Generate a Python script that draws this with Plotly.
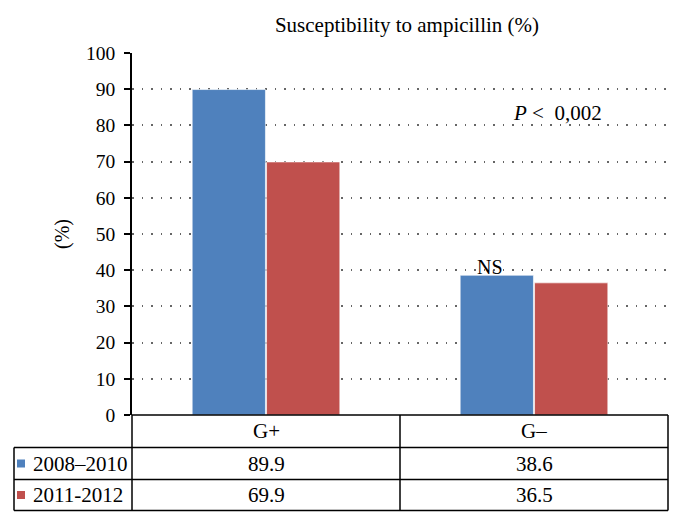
import plotly.graph_objects as go

categories = ["G+", "G–"]
series_names = ["2008–2010", "2011-2012"]
values_2008_2010 = [89.9, 38.6]
values_2011_2012 = [69.9, 36.5]
table_values = [["89.9", "38.6"], ["69.9", "36.5"]]
colors = ["#4F81BD", "#C0504D"]
y_ticks = [0, 10, 20, 30, 40, 50, 60, 70, 80, 90, 100]

FONT = "Liberation Serif"
W, H = 678, 525
L, R, T, B = 132, 10, 53, 110
pw, ph = W - L - R, H - T - B

def px_x(p):
    return (p - L) / pw

def px_y(p):
    return (H - B - p) / ph

fig = go.Figure()
for name, vals, col in zip(series_names, [values_2008_2010, values_2011_2012], colors):
    fig.add_trace(go.Bar(
        x=categories, y=vals, name=name,
        marker=dict(color=col, line=dict(color="rgba(255,255,255,0.6)", width=1)),
        showlegend=False,
    ))

fig.update_layout(
    width=W, height=H,
    margin=dict(l=L, r=R, t=T, b=B, autoexpand=False),
    paper_bgcolor="white", plot_bgcolor="white",
    barmode="group", bargap=0.445, bargroupgap=0.015,
    font=dict(family=FONT, color="black", size=21),
    title=dict(text="Susceptibility to ampicillin (%)", xref="paper", x=px_x(407), xanchor="center",
               yref="container", y=1 - 25 / H, yanchor="middle", font=dict(family=FONT, size=21)),
)
fig.update_xaxes(range=[-0.5, 1.5], showticklabels=False, showgrid=False,
                 showline=False, zeroline=False, ticks="", automargin=False)
fig.update_yaxes(range=[0, 100], tickvals=y_ticks, ticks="outside", ticklen=6,
                 tickcolor="black", tickwidth=1.5, showline=True, linecolor="black", linewidth=1.5,
                 showgrid=True, gridcolor="#666666", gridwidth=1.5, griddash="1.5px,8px",
                 zeroline=False, tickfont=dict(family=FONT, size=19.5), ticklabelstandoff=5,
                 automargin=False,
                 title=dict(text="(%)", font=dict(family=FONT, size=20), standoff=11))

# table geometry
row_px = [415, 447.5, 479.5, 510.5]
left_px = 14
n = len(categories)
col_edges = [(i) / n for i in range(n + 1)]  # paper positions of category boundaries (range -0.5..1.5)
line = dict(color="black", width=1.5)
ys = [px_y(p) for p in row_px]
xl = px_x(left_px)

# horizontal lines
fig.add_shape(type="line", xref="paper", yref="paper", x0=0, x1=1, y0=ys[0], y1=ys[0], line=line)
for yy in ys[1:]:
    fig.add_shape(type="line", xref="paper", yref="paper", x0=xl, x1=1, y0=yy, y1=yy, line=line)
# vertical lines
fig.add_shape(type="line", xref="paper", yref="paper", x0=xl, x1=xl, y0=ys[1], y1=ys[3], line=line)
for ce in col_edges:
    fig.add_shape(type="line", xref="paper", yref="paper", x0=ce, x1=ce, y0=ys[0], y1=ys[3], line=line)

# header text
for i, cat in enumerate(categories):
    cx = (col_edges[i] + col_edges[i + 1]) / 2
    fig.add_annotation(x=cx, y=(ys[0] + ys[1]) / 2, xref="paper", yref="paper", text=cat,
                       xanchor="center", yanchor="middle",
                       showarrow=False, font=dict(family=FONT, size=21))
# rows
for r, (name, col) in enumerate(zip(series_names, colors)):
    yc = (ys[r + 1] + ys[r + 2]) / 2
    fig.add_shape(type="rect", xref="paper", yref="paper",
                  x0=px_x(17), x1=px_x(25), y0=yc - 4 / ph, y1=yc + 4 / ph,
                  fillcolor=col, line=dict(width=0))
    fig.add_annotation(x=px_x(31), y=yc, xref="paper", yref="paper", text=name,
                       xanchor="left", yanchor="middle",
                       showarrow=False, font=dict(family=FONT, size=21))
    for i in range(n):
        cx = (col_edges[i] + col_edges[i + 1]) / 2
        fig.add_annotation(x=cx, y=yc, xref="paper", yref="paper", text=table_values[r][i],
                           xanchor="center", yanchor="middle",
                           showarrow=False, font=dict(family=FONT, size=21))

# significance annotations
fig.add_annotation(x=px_x(557), y=83.4, xref="paper", yref="y", text="<i>P</i> <  0,002",
                   xanchor="center", yanchor="middle",
                   showarrow=False, font=dict(family=FONT, size=21))
fig.add_annotation(x=categories[1], xshift=-44, y=values_2008_2010[1], yref="y", text="NS",
                   xanchor="center", yanchor="bottom", yshift=-5,
                   showarrow=False, font=dict(family=FONT, size=20))

fig.write_html("out.html", config={"displayModeBar": False},
               post_script="document.body.style.margin='0px';")
